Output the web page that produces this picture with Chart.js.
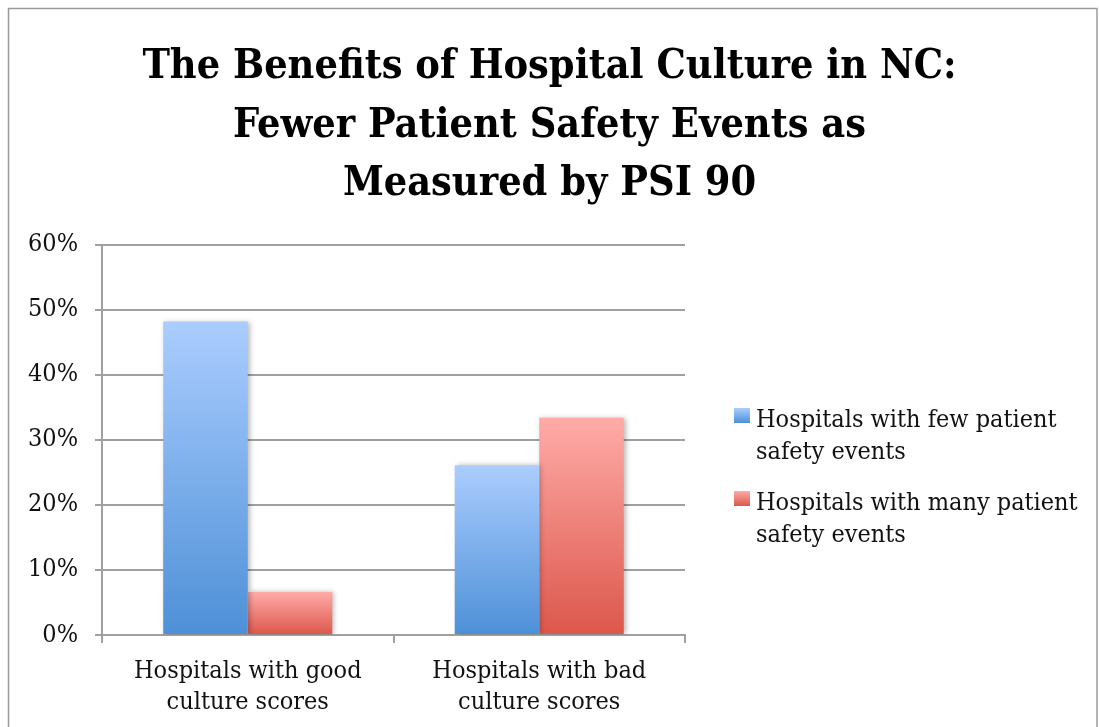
<!DOCTYPE html>
<html>
<head>
<meta charset="utf-8">
<script src="https://cdn.jsdelivr.net/npm/chart.js@4/dist/chart.umd.min.js"></script>
<style>
  html, body { margin: 0; padding: 0; background: #fff; }
  #wrap { width: 1099px; height: 727px; }
</style>
</head>
<body>
<div id="wrap"><canvas id="cultureChart" width="1099" height="727"></canvas></div>
<script>
// chart data
const categories = [['Hospitals with good', 'culture scores'], ['Hospitals with bad', 'culture scores']];
const fewEvents = [48.2, 26.1];
const manyEvents = [6.6, 33.4];
const seriesNames = ['Hospitals with few patient safety events', 'Hospitals with many patient safety events'];
const legendLines = [['Hospitals with few patient', 'safety events'], ['Hospitals with many patient', 'safety events']];
const titleLines = ['The Benefits of Hospital Culture in NC:', 'Fewer Patient Safety Events as', 'Measured by PSI 90'];
const yTicks = [0, 10, 20, 30, 40, 50, 60];

const SERIF = "'DejaVu Serif Condensed', 'DejaVu Serif', serif";
const GRID = '#a0a0a0';

// vertical gradient per bar, light at the top
function barGradient(top, bottom) {
  return function (context) {
    const chart = context.chart;
    if (!chart.scales.y || context.raw == null) return bottom;
    const y = chart.scales.y;
    const y0 = y.getPixelForValue(context.raw);
    const y1 = y.getPixelForValue(0);
    if (!isFinite(y0) || !isFinite(y1) || y0 === y1) return bottom;
    const g = chart.ctx.createLinearGradient(0, y0, 0, y1);
    g.addColorStop(0, top);
    g.addColorStop(1, bottom);
    return g;
  };
}

const frame = {
  id: 'frame',
  beforeDraw(chart) {
    const ctx = chart.ctx;
    ctx.save();
    ctx.strokeStyle = '#9a9a9a';
    ctx.lineWidth = 1.5;
    ctx.strokeRect(8.5, 8.5, 1088.5, 740);
    ctx.restore();
  }
};

const barShadow = {
  id: 'barShadow',
  beforeDatasetsDraw(chart) {
    const ctx = chart.ctx;
    ctx.save();
    ctx.shadowColor = 'rgba(0,0,0,0.28)';
    ctx.shadowBlur = 5;
    ctx.shadowOffsetX = 2;
    ctx.shadowOffsetY = 0;
  },
  afterDatasetsDraw(chart) {
    chart.ctx.restore();
  }
};

const sideLegend = {
  id: 'sideLegend',
  afterDraw(chart) {
    const ctx = chart.ctx;
    const area = chart.chartArea;
    const boxTop = 408;
    const itemGap = 83;
    const lineGap = 32;
    ctx.save();
    ctx.font = '25px ' + SERIF;
    ctx.textBaseline = 'alphabetic';
    ctx.textAlign = 'left';
    chart.data.datasets.forEach((ds, i) => {
      const y = boxTop + i * itemGap;
      const bx = area.right + 49;
      const g = ctx.createLinearGradient(0, y, 0, y + 15);
      g.addColorStop(0, ds.legendTop);
      g.addColorStop(1, ds.legendBottom);
      ctx.fillStyle = g;
      ctx.fillRect(bx, y, 16, 15);
      ctx.fillStyle = '#111';
      legendLines[i].forEach((line, j) => {
        ctx.fillText(line, bx + 22, y + 19 + j * lineGap);
      });
    });
    ctx.restore();
  }
};

new Chart(document.getElementById('cultureChart'), {
  type: 'bar',
  data: {
    labels: categories,
    datasets: [{
      label: seriesNames[0],
      data: fewEvents,
      backgroundColor: barGradient('#abcdff', '#4d90d7'),
      legendTop: '#abcdff',
      legendBottom: '#4d90d7',
      borderWidth: 0,
      categoryPercentage: 0.58,
      barPercentage: 1.0
    }, {
      label: seriesNames[1],
      data: manyEvents,
      backgroundColor: barGradient('#ffaba8', '#dc574b'),
      legendTop: '#ffaba8',
      legendBottom: '#dc574b',
      borderWidth: 0,
      categoryPercentage: 0.58,
      barPercentage: 1.0
    }]
  },
  options: {
    responsive: false,
    animation: false,
    layout: { padding: 0 },
    plugins: {
      legend: { display: false },
      tooltip: { enabled: false },
      title: {
        display: true,
        text: titleLines,
        color: '#000',
        font: { family: SERIF, size: 41, weight: 'bold', lineHeight: 1.43 },
        padding: { top: 38, bottom: 31 }
      }
    },
    scales: {
      x: {
        offset: true,
        grid: {
          display: true,
          offset: true,
          drawOnChartArea: false,
          color: GRID,
          lineWidth: 2,
          tickLength: 8
        },
        border: { display: true, color: GRID, width: 2 },
        ticks: {
          color: '#111',
          font: { family: SERIF, size: 25, lineHeight: 1.24 },
          padding: 13,
          maxRotation: 0
        },
        afterFit(scale) { scale.height = 92; }
      },
      y: {
        min: 0,
        max: 60,
        afterBuildTicks(scale) { scale.ticks = yTicks.map(v => ({ value: v })); },
        grid: { color: GRID, lineWidth: 2, tickLength: 7 },
        border: { display: true, color: GRID, width: 2 },
        ticks: {
          color: '#111',
          font: { family: SERIF, size: 25 },
          padding: 17,
          callback: v => v + '%'
        },
        afterFit(scale) { scale.width = 102; }
      },
      side: {
        type: 'linear',
        position: 'right',
        display: true,
        grid: { display: false },
        border: { display: false },
        ticks: { display: false },
        afterFit(scale) { scale.width = 414; }
      }
    }
  },
  plugins: [frame, barShadow, sideLegend]
});
</script>
</body>
</html>
